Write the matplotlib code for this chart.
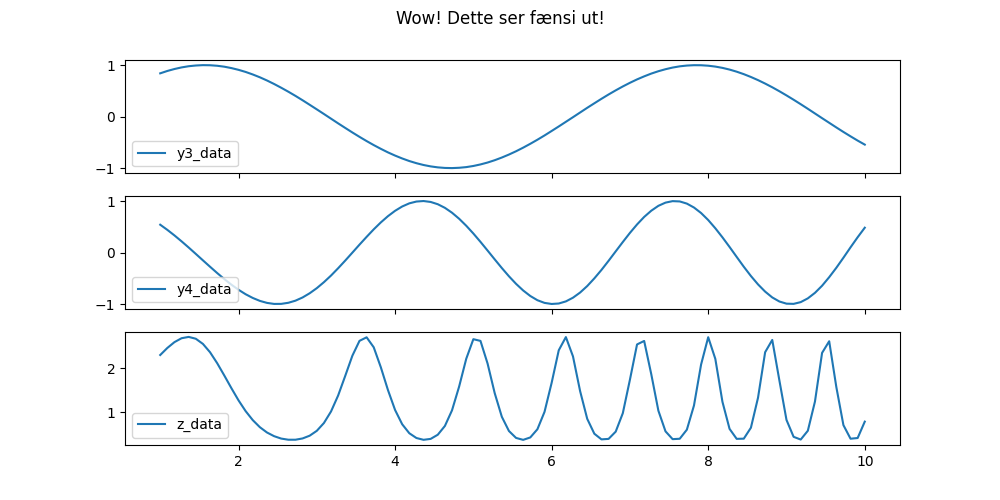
import numpy as np
import matplotlib
matplotlib.use('Agg')
import matplotlib.pyplot as plt

# sample grid (100 points from 1 to 10)
x = np.linspace(1, 10, 100)

# values
y3_data = [0.841, 0.887, 0.925, 0.956, 0.979, 0.993, 1.000, 0.998, 0.988, 0.970,
           0.943, 0.909, 0.868, 0.819, 0.764, 0.702, 0.634, 0.561, 0.484, 0.403,
           0.318, 0.230, 0.141, 0.051, -0.040, -0.131, -0.220, -0.308, -0.393, -0.475,
           -0.553, -0.626, -0.695, -0.757, -0.813, -0.863, -0.905, -0.940, -0.967, -0.986,
           -0.997, -1.000, -0.994, -0.981, -0.959, -0.929, -0.892, -0.847, -0.795, -0.737,
           -0.673, -0.603, -0.528, -0.449, -0.366, -0.279, -0.191, -0.101, -0.011, 0.080,
           0.171, 0.259, 0.346, 0.430, 0.510, 0.586, 0.657, 0.723, 0.782, 0.836,
           0.882, 0.921, 0.953, 0.977, 0.992, 0.999, 0.998, 0.989, 0.972, 0.947,
           0.914, 0.873, 0.825, 0.770, 0.709, 0.642, 0.570, 0.493, 0.412, 0.328,
           0.241, 0.152, 0.061, -0.030, -0.120, -0.210, -0.298, -0.383, -0.466, -0.544]

y4_data = [0.540, 0.440, 0.332, 0.217, 0.097, -0.027, -0.152, -0.276, -0.398, -0.515,
           -0.624, -0.723, -0.810, -0.882, -0.939, -0.978, -0.998, -0.997, -0.976, -0.935,
           -0.873, -0.791, -0.692, -0.576, -0.447, -0.305, -0.156, -0.002, 0.153, 0.304,
           0.450, 0.585, 0.706, 0.810, 0.894, 0.955, 0.990, 1.000, 0.982, 0.938,
           0.868, 0.773, 0.656, 0.520, 0.369, 0.207, 0.038, -0.133, -0.301, -0.461,
           -0.608, -0.737, -0.844, -0.926, -0.978, -0.999, -0.990, -0.949, -0.877, -0.777,
           -0.651, -0.502, -0.338, -0.161, 0.022, 0.204, 0.381, 0.545, 0.691, 0.812,
           0.907, 0.969, 0.998, 0.992, 0.950, 0.874, 0.767, 0.631, 0.471, 0.295,
           0.108, -0.085, -0.276, -0.456, -0.619, -0.759, -0.872, -0.951, -0.993, -0.997,
           -0.963, -0.890, -0.783, -0.645, -0.479, -0.297, -0.101, 0.101, 0.297, 0.482]

z_data = [2.305, 2.466, 2.599, 2.688, 2.718, 2.676, 2.558, 2.368, 2.119, 1.838,
          1.548, 1.270, 1.024, 0.819, 0.657, 0.536, 0.452, 0.397, 0.371, 0.371,
          0.400, 0.463, 0.574, 0.752, 1.016, 1.381, 1.830, 2.289, 2.628, 2.709,
          2.481, 2.024, 1.505, 1.050, 0.724, 0.519, 0.410, 0.369, 0.390, 0.485,
          0.685, 1.042, 1.584, 2.219, 2.666, 2.627, 2.109, 1.434, 0.895, 0.570,
          0.412, 0.368, 0.423, 0.610, 1.007, 1.670, 2.413, 2.714, 2.273, 1.481,
          0.848, 0.508, 0.379, 0.390, 0.555, 0.976, 1.741, 2.546, 2.626, 1.866,
          1.033, 0.562, 0.384, 0.393, 0.600, 1.152, 2.088, 2.711, 2.217, 1.237,
          0.619, 0.391, 0.395, 0.645, 1.330, 2.369, 2.649, 1.726, 0.823, 0.437,
          0.375, 0.576, 1.242, 2.353, 2.619, 1.577, 0.704, 0.394, 0.410, 0.784]

fig, axes = plt.subplots(3, 1, sharex=True, figsize=(10, 5), dpi=100)
fig.suptitle('Wow! Dette ser fænsi ut!')

axes[0].plot(x, y3_data, label='y3_data')
axes[1].plot(x, y4_data, label='y4_data')
axes[2].plot(x, z_data, label='z_data')

for ax in axes:
    ax.legend(loc='lower left')

plt.savefig('out.png')
